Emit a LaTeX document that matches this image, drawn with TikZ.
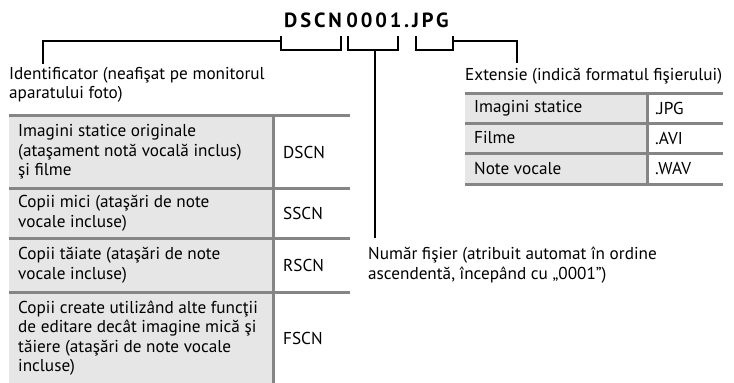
\documentclass[tikz,border=0pt]{standalone}
\usepackage{fontspec}
\setmainfont{PT Sans}
\newfontfamily\titlefont[LetterSpace=14]{PT Sans}
\usetikzlibrary{positioning}

\definecolor{rama}{HTML}{858585}
\definecolor{celula}{HTML}{E6E6E6}

\tikzset{
  txt/.style={inner sep=0pt, align=left, font=\fontsize{17.2}{19.5}\selectfont},
  titlu/.style={inner sep=0pt, font=\titlefont\bfseries\fontsize{20.5}{22}\selectfont},
  acolada/.style={line width=1.8pt, line cap=rect},
  linie/.style={rama, line width=3pt}
}

\begin{document}
\begin{tikzpicture}[x=1pt, y=-1pt]
  \useasboundingbox (0,0) rectangle (734,383);

  % numele fisierului
  \node[titlu, anchor=base] (pref) at (313,27) {DSCN};
  \node[titlu, anchor=base] (nrf) at (374,27) {0001};
  \node[titlu, anchor=base west] (ext3) at (404,27) {.JPG};
  \coordinate (d1) at (281,37); \coordinate (d2) at (341,37);
  \coordinate (n1) at (348,37); \coordinate (n2) at (398,37);
  \coordinate (e1) at (416,37); \coordinate (e2) at (453,37);
  \coordinate (nm) at (375,50);

  % acolade sub nume
  \draw[acolada] (d1) -- ++(0,13) -| (d2);
  \draw[acolada] (n1) -- ++(0,13) -| (n2);
  \draw[acolada] (e1) -- ++(0,13) -| (e2);

  % etichete
  \node[txt, anchor=west] (ident) at (9,85)
    {Identificator (neafişat pe monitorul\\aparatului foto)};
  \node[txt, anchor=base west] (ext) at (465,80)
    {Extensie (indică formatul fişierului)};
  \node[txt, anchor=west] (nr) at (368,265)
    {Număr fişier (atribuit automat în ordine\\ascendentă, începând cu „0001”)};

  \draw[acolada] ([yshift=-4pt]d1) -| ([xshift=34pt,yshift=4pt]ident.north west);
  \draw[acolada] ([yshift=-4pt]e2) -| ([xshift=52pt,yshift=5pt]ext.north west);
  \draw[acolada] (nm) -- ([xshift=7pt,yshift=10pt]nr.north west);

  % tabel identificator
  \fill[celula] (9,115) rectangle (273,383);
  \foreach \y in {115,188,238,292} \draw[linie] (9,\y) -- (350,\y);
  \draw[linie] (273,115) -- (273,383);

  \node[txt, anchor=west] (r1) at (18,152)
    {Imagini statice originale\\(ataşament notă vocală inclus)\\şi filme};
  \node[txt, anchor=west] (r2) at (18,213)
    {Copii mici (ataşări de note\\vocale incluse)};
  \node[txt, anchor=west] (r3) at (18,265)
    {Copii tăiate (ataşări de note\\vocale incluse)};
  \node[txt, anchor=west] (r4) at (18,338)
    {Copii create utilizând alte funcţii\\de editare decât imagine mică şi\\tăiere (ataşări de note vocale\\incluse)};
  \node[txt, anchor=west] (c1) at (283,152) {DSCN};
  \node[txt, anchor=west] (c2) at (283,213) {SSCN};
  \node[txt, anchor=west] (c3) at (283,265) {RSCN};
  \node[txt, anchor=west] (c4) at (283,338) {FSCN};

  % tabel extensie
  \fill[celula] (465,93) rectangle (647,184);
  \foreach \y in {93,123,153,184} \draw[linie] (465,\y) -- (723,\y);
  \draw[linie] (647,93) -- (647,184);

  \node[txt, anchor=west] (x1) at (474,108) {Imagini statice};
  \node[txt, anchor=west] (x2) at (474,138) {Filme};
  \node[txt, anchor=west] (x3) at (474,168.5) {Note vocale};
  \node[txt, anchor=west] (y1) at (655,108) {.JPG};
  \node[txt, anchor=west] (y2) at (655,138) {.AVI};
  \node[txt, anchor=west] (y3) at (655,168.5) {.WAV};
\end{tikzpicture}
\end{document}
